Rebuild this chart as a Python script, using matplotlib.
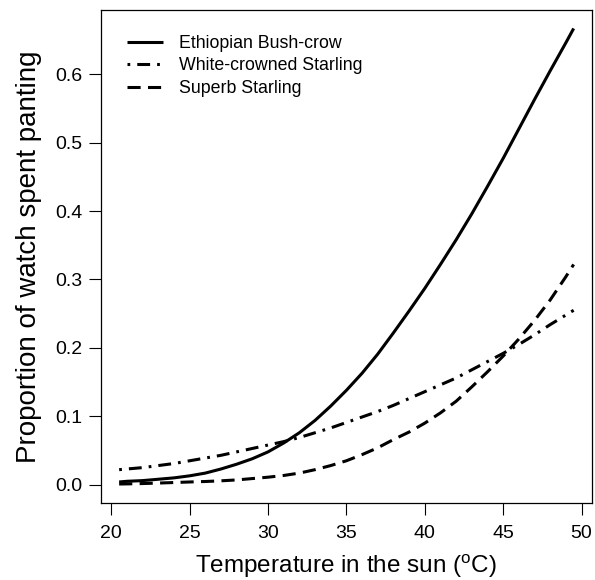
#! /usr/bin/env python

# panting proportion vs temperature, three species
import numpy as np
import matplotlib
matplotlib.use('Agg')
import matplotlib.pyplot as plt

matplotlib.rcParams['font.family'] = ['Liberation Sans', 'DejaVu Sans']

# temperature grid (deg C) the curves were read at
temp = [20.5, 21, 22, 23, 24, 25, 26, 27, 28, 29, 30, 31, 32, 33, 34, 35,
        36, 37, 38, 39, 40, 41, 42, 43, 44, 45, 46, 47, 48, 49, 49.5]

# proportion of watch spent panting
bush_crow = [0.004, 0.005, 0.006, 0.008, 0.010, 0.013, 0.017, 0.023, 0.030, 0.038,
             0.048, 0.061, 0.076, 0.094, 0.115, 0.138, 0.163, 0.191, 0.222, 0.254,
             0.287, 0.322, 0.358, 0.396, 0.436, 0.477, 0.520, 0.563, 0.605, 0.646,
             0.667]
white_crowned = [0.022, 0.023, 0.025, 0.028, 0.031, 0.035, 0.039, 0.043, 0.048, 0.053,
                 0.058, 0.063, 0.069, 0.076, 0.083, 0.091, 0.099, 0.107, 0.116, 0.126,
                 0.136, 0.146, 0.156, 0.168, 0.180, 0.192, 0.205, 0.219, 0.234, 0.248,
                 0.255]
superb = [0.001, 0.0012, 0.0017, 0.0024, 0.0032, 0.004, 0.0047, 0.0057, 0.007, 0.009,
          0.011, 0.0135, 0.017, 0.022, 0.028, 0.035, 0.044, 0.054, 0.066, 0.077,
          0.090, 0.105, 0.122, 0.143, 0.165, 0.188, 0.213, 0.240, 0.270, 0.304,
          0.322]

labels = ['Ethiopian Bush-crow', 'White-crowned Starling', 'Superb Starling']

x_ticks = [20, 25, 30, 35, 40, 45, 50]
y_ticks = [0.0, 0.1, 0.2, 0.3, 0.4, 0.5, 0.6]

fig = plt.figure(figsize=[5.95, 5.8], dpi=100)
ax = fig.add_axes([0.1697, 0.1328, 0.825, 0.85])

lw = 2.2
ax.plot(temp, bush_crow, color='k', lw=lw, solid_capstyle='butt', label=labels[0])
ax.plot(temp, white_crowned, color='k', lw=lw, dashes=(0.9, 2.3, 4.2, 2.3),
        dash_capstyle='butt', label=labels[1])
ax.plot(temp, superb, color='k', lw=lw, dashes=(4.3, 2.4),
        dash_capstyle='butt', label=labels[2])

# R-like axis ranges (4% padding)
ax.set_xlim(19.34, 50.66)
ax.set_ylim(-0.0267, 0.694)

ax.set_xticks(x_ticks)
ax.set_xticklabels([str(t) for t in x_ticks])
ax.set_yticks(y_ticks)
ax.set_yticklabels(['%.1f' % t for t in y_ticks])

ax.tick_params(axis='both', direction='out', length=8.5, width=0.8,
               labelsize=14, color='k')
ax.tick_params(axis='x', pad=7)
ax.tick_params(axis='y', pad=5)
for s in ax.spines.values():
    s.set_linewidth(0.9)

ax.set_xlabel('Temperature in the sun ($\\mathregular{^{o}}$C)', fontsize=17.5, labelpad=8)
ax.set_ylabel('Proportion of watch spent panting', fontsize=20, labelpad=9)

ax.legend(loc='upper left', bbox_to_anchor=(0.053, 0.949), frameon=False,
          fontsize=12.8, handlelength=2.0, handletextpad=0.95,
          labelspacing=0.3, borderaxespad=0, borderpad=0)

plt.savefig('out.png', dpi=100)
plt.close()
